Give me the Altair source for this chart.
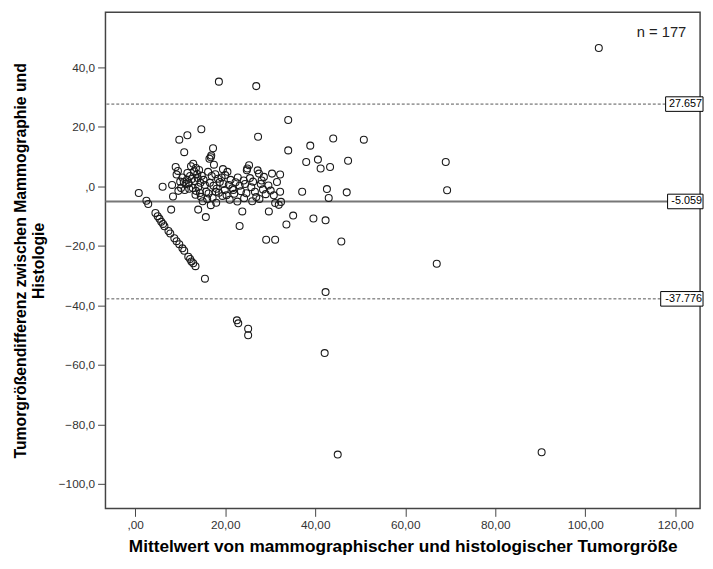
import altair as alt
import pandas as pd

# Mean of mammographic and histologic size (x) and difference (y)
line_x = [0.8, 2.5, 2.9, 4.5, 5.0, 5.4, 5.8, 6.2, 6.5, 7.4, 7.8, 8.7, 9.2, 9.8, 10.5, 10.9, 11.8, 12.2, 12.5, 12.9, 13.4, 15.5]
line_y = [-2.2, -4.8, -5.9, -8.9, -10.0, -10.9, -11.9, -12.6, -13.4, -15.0, -15.8, -17.4, -18.4, -19.4, -20.8, -21.6, -23.6, -24.4, -25.2, -25.8, -26.8, -31.0]

outer_x = [103.0, 18.6, 26.9, 34.0, 14.7, 11.6, 9.8, 27.3, 44.0, 50.8, 38.9, 34.0, 38.0, 40.6, 41.2, 43.3,
           47.3, 69.0, 69.3, 37.1, 42.6, 43.0, 47.0, 67.0, 42.3, 42.1, 45.0, 90.3, 22.6, 22.9, 25.1, 25.1,
           45.8, 29.1, 31.1, 35.1, 33.6, 39.6, 42.3, 23.8, 23.2, 29.7, 15.7, 10.9, 8.0, 14.0]
outer_y = [46.5, 35.2, 33.7, 22.3, 19.2, 17.2, 15.7, 16.7, 16.1, 15.7, 13.7, 12.1, 8.2, 9.0, 6.0, 6.5,
           8.6, 8.2, -1.3, -1.8, -0.9, -3.9, -2.0, -26.0, -35.5, -56.0, -90.1, -89.3, -45.0, -46.0, -47.8, -50.0,
           -18.5, -17.9, -17.9, -9.8, -12.8, -10.8, -11.4, -8.4, -13.3, -8.4, -10.3, 11.5, -7.8, -7.8]

cluster_x = [6.1, 8.2, 8.4, 9.0, 9.5, 9.2, 10.0, 10.5, 10.8, 11.2, 11.5, 11.9, 10.2, 11.0, 12.0, 11.6, 12.2, 9.6,
             12.9, 13.1, 13.5, 13.8, 14.2, 12.6, 13.2, 13.9, 14.5, 12.8, 13.5, 14.0, 14.8, 15.2, 15.5, 15.8, 14.6, 15.0, 13.4, 16.0, 14.4, 12.4,
             16.9, 16.5, 17.3, 16.8, 17.5, 16.2, 17.0, 17.8, 18.4, 16.6, 17.4, 18.1, 18.8, 19.2, 19.6, 16.3, 17.2, 18.0, 18.6, 19.4, 19.9, 17.9, 16.8,
             20.5, 20.0, 21.2, 20.8, 21.6, 22.3, 22.8, 23.2, 22.0, 23.5, 24.1, 24.8, 25.3, 24.9, 24.4, 24.7, 21.0, 22.7, 24.2, 20.3, 21.8, 19.5,
             25.8, 26.2, 26.6, 27.2, 27.5, 28.6, 30.4, 32.2, 27.9, 28.4, 29.0, 26.9, 27.6, 29.6, 30.1, 30.8, 31.5, 32.2, 31.1, 31.9, 32.4, 25.5, 28.1, 26.0]
cluster_y = [-0.1, 0.5, -3.4, 6.5, 5.2, 4.0, 1.6, 3.0, 1.5, 0.8, 2.2, 1.0, -0.5, -1.2, -0.8, 4.5, 3.5, -1.5,
             7.6, 5.1, 6.2, 4.2, 5.5, 2.5, 1.8, 2.8, 1.2, -0.5, -1.5, -0.2, 3.6, 2.2, 0.5, -1.8, -3.5, -5.0, -2.8, -4.2, -2.2, 6.8,
             10.4, 9.3, 12.8, 9.8, 7.3, 4.9, 3.5, 4.1, 2.6, 1.2, 0.2, -0.8, 1.5, 3.0, 0.8, -2.4, -3.8, -5.5, -2.1, -3.2, -1.2, -1.8, -6.3,
             4.9, 3.8, 2.2, 0.5, -0.6, 1.4, 3.0, 0.2, -2.5, -1.6, 2.0, 5.4, 7.1, 6.0, 0.8, -2.3, -4.5, -5.1, -4.0, -3.0, -1.2, 5.8,
             -0.3, 1.6, -1.8, 5.4, 4.3, 3.2, 4.3, 4.0, 0.8, -1.0, -2.6, -3.6, -4.2, 0.3, -1.4, -3.0, 1.5, -1.8, -5.6, -6.2, -5.2, 2.8, 2.0, -5.0]

ref_values = [27.657, -5.059, -37.776]
ref_labels = ["27.657", "-5.059", "-37.776"]
ref_kind = ["limit", "mean", "limit"]

n_label = ["n = 177"]

x_ticks = [0, 20, 40, 60, 80, 100, 120]
y_ticks = [-100, -80, -60, -40, -20, 0, 20, 40]

x_title = "Mittelwert von mammographischer und histologischer Tumorgröße"
y_title = ["Tumorgrößendifferenz zwischen Mammographie und", "Histologie"]

W, H = 604, 504
FONT = "Liberation Sans"

pts = pd.DataFrame({"x": line_x + outer_x + cluster_x, "y": line_y + outer_y + cluster_y})
refs = pd.DataFrame({"y": ref_values, "lab": ref_labels, "kind": ref_kind})
ndf = pd.DataFrame({"t": n_label})

xscale = alt.Scale(domain=[-6.6, 125.5], nice=False, zero=False)
yscale = alt.Scale(domain=[-108.2, 58.5], nice=False, zero=False)

points = alt.Chart(pts).mark_point(
    shape="circle", filled=False, size=50, color="#1a1a1a", strokeWidth=1.1, opacity=1
).encode(
    x=alt.X("x:Q", scale=xscale, title=x_title,
            axis=alt.Axis(values=x_ticks,
                          labelExpr="datum.value == 0 ? ',00' : replace(format(datum.value, '.2f'), '.', ',')")),
    y=alt.Y("y:Q", scale=yscale, title=y_title,
            axis=alt.Axis(values=y_ticks,
                          labelExpr="datum.value == 0 ? ',0' : replace(format(datum.value, '.1f'), '.', ',')")),
)

mean_rule = alt.Chart(refs).transform_filter(alt.datum.kind == "mean").mark_rule(
    color="#777777", strokeWidth=2
).encode(y="y:Q")

limit_rule = alt.Chart(refs).transform_filter(alt.datum.kind == "limit").mark_rule(
    color="#555555", strokeWidth=1, strokeDash=[3, 2]
).encode(y="y:Q")

box_paths = [
    "M-1.9,-0.37L0,-0.37L0,0.37L-1.9,0.37Z",
    "M-1.8,-0.37L0,-0.37L0,0.37L-1.8,0.37Z",
    "M-2.15,-0.37L0,-0.37L0,0.37L-2.15,0.37Z",
]

boxes = alt.Chart(refs).mark_point(
    filled=True, fill="white", stroke="black", strokeWidth=1, size=1600, opacity=1
).encode(
    x=alt.value(W + 3),
    y="y:Q",
    shape=alt.Shape("lab:N", scale=alt.Scale(domain=ref_labels, range=box_paths), legend=None),
)

box_text = alt.Chart(refs).mark_text(
    align="right", baseline="middle", font=FONT, fontSize=11, color="black"
).encode(x=alt.value(W + 2), y="y:Q", text="lab:N")

n_text = alt.Chart(ndf).mark_text(
    align="right", baseline="middle", font=FONT, fontSize=15, color="#222222"
).encode(x=alt.value(W - 14), y=alt.value(20), text="t:N")

chart = alt.layer(limit_rule, mean_rule, points, boxes, box_text, n_text).properties(
    width=W, height=H, padding={"left": 4, "top": 0, "right": 0, "bottom": 0}
).configure_view(
    stroke="#444444", strokeWidth=1.5
).configure_axis(
    domain=False, grid=False, ticks=True, tickSize=8, tickColor="#444444", tickWidth=1,
    labelFont=FONT, labelFontSize=12, labelColor="#333333", labelPadding=3,
    titleFont=FONT, titleFontWeight="bold", titleColor="black",
).configure_axisY(titlePadding=12, titleFontSize=16, titleLineHeight=18
).configure_axisX(titlePadding=8, titleFontSize=17.5)

chart.save("out.html", embed_options={"renderer": "svg", "actions": False})
